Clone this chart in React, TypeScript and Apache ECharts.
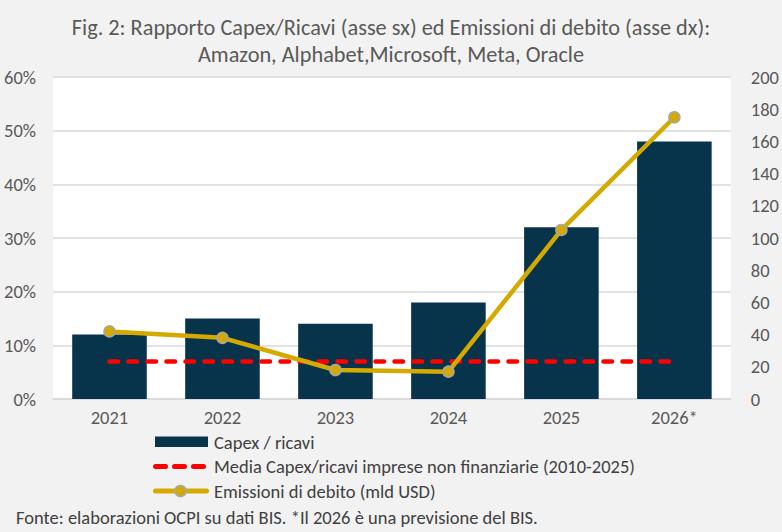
import React, { useEffect, useRef } from "react";
import * as echarts from "echarts";

const years = ["2021", "2022", "2023", "2024", "2025", "2026*"];
const capexRicavi = [12, 15, 14, 18, 32, 48];
const mediaCapex = [7, 7, 7, 7, 7, 7];
const emissioniDebito = [42, 38, 18, 17, 105, 175];

const titleLines = [
  "Fig. 2: Rapporto Capex/Ricavi (asse sx) ed Emissioni di debito (asse dx):",
  "Amazon, Alphabet,Microsoft, Meta, Oracle",
];
const seriesNames = [
  "Capex / ricavi",
  "Media Capex/ricavi imprese non finanziarie (2010-2025)",
  "Emissioni di debito (mld USD)",
];
const footnote = "Fonte: elaborazioni OCPI su dati BIS. *Il 2026 è una previsione del BIS.";

const FONT = "Carlito, Calibri, 'Open Sans', sans-serif";
const BAR = "#07344a";
const GOLD = "#d4aa00";
const RED = "#ff0000";
const TXT = "#404040";
const AX = "#595959";
const FS = 18.5;

export default function App() {
  const ref = useRef<HTMLDivElement>(null);
  useEffect(() => {
    document.body.style.margin = "0";
    if (!ref.current) return;
    const chart = echarts.init(ref.current, null, { renderer: "svg" });
    const legendText = (i: number, y: number) => ({
      type: "text",
      x: 214,
      y,
      style: {
        text: seriesNames[i],
        fontFamily: FONT,
        fontSize: FS,
        fill: TXT,
        verticalAlign: "middle",
        align: "left",
      },
    });
    chart.setOption({
      animation: false,
      backgroundColor: "#f2f2f2",
      textStyle: { fontFamily: FONT },
      title: {
        text: titleLines.join("\n"),
        left: "center",
        top: 9,
        textStyle: {
          fontFamily: FONT,
          fontSize: 22.3,
          lineHeight: 27,
          fontWeight: "normal",
          color: AX,
        },
      },
      grid: {
        left: 53,
        right: 49,
        top: 77,
        bottom: 133,
        show: true,
        backgroundColor: "#ffffff",
        borderWidth: 0,
      },
      graphic: [
        { type: "rect", shape: { x: 155, y: 436.5, width: 53, height: 10.5 }, style: { fill: BAR } },
        legendText(0, 442),
        {
          type: "line",
          shape: { x1: 155.5, y1: 466.5, x2: 203.5, y2: 466.5 },
          style: { stroke: RED, lineWidth: 5, lineCap: "round", lineDash: [10, 9] },
        },
        legendText(1, 466.5),
        {
          type: "line",
          shape: { x1: 155.5, y1: 491, x2: 206.5, y2: 491 },
          style: { stroke: GOLD, lineWidth: 5, lineCap: "round" },
        },
        {
          type: "circle",
          shape: { cx: 180.5, cy: 491, r: 5.5 },
          style: { fill: GOLD, stroke: "#a6a6a6", lineWidth: 1.5 },
        },
        legendText(2, 491.5),
        {
          type: "text",
          x: 16,
          y: 517.5,
          style: {
            text: footnote,
            fontFamily: FONT,
            fontSize: FS,
            fill: TXT,
            verticalAlign: "middle",
          },
        },
      ],
      xAxis: {
        type: "category",
        data: years,
        boundaryGap: true,
        axisTick: { show: false },
        axisLine: { lineStyle: { color: "#d9d9d9", width: 1.5 } },
        axisLabel: { fontFamily: FONT, fontSize: FS, color: AX, margin: 9 },
      },
      yAxis: [
        {
          type: "value",
          min: 0,
          max: 60,
          interval: 10,
          axisLabel: { formatter: "{value}%", fontFamily: FONT, fontSize: FS, color: AX, margin: 17 },
          splitLine: { lineStyle: { color: "#d9d9d9", width: 1.5 } },
          axisLine: { show: false },
          axisTick: { show: false },
        },
        {
          type: "value",
          min: 0,
          max: 200,
          interval: 20,
          position: "right",
          axisLabel: { fontFamily: FONT, fontSize: FS, color: AX, margin: 20 },
          splitLine: { show: false },
          axisLine: { show: false },
          axisTick: { show: false },
        },
      ],
      series: [
        {
          name: seriesNames[0],
          type: "bar",
          data: capexRicavi,
          barWidth: "66%",
          itemStyle: { color: BAR },
          z: 2,
        },
        {
          name: seriesNames[1],
          type: "line",
          data: mediaCapex,
          symbol: "none",
          lineStyle: { color: RED, width: 4.5, type: [8.5, 10.5], cap: "round" },
          itemStyle: { color: RED },
          z: 3,
        },
        {
          name: seriesNames[2],
          type: "line",
          yAxisIndex: 1,
          data: emissioniDebito,
          symbol: "circle",
          symbolSize: 11,
          showAllSymbol: true,
          lineStyle: { color: GOLD, width: 4.5 },
          itemStyle: { color: GOLD, borderColor: "#a6a6a6", borderWidth: 1.5 },
          z: 4,
        },
      ],
    });
    return () => chart.dispose();
  }, []);
  return (
    <div
      ref={ref}
      style={{ position: "fixed", left: 0, top: 0, width: 782, height: 532 }}
    />
  );
}
